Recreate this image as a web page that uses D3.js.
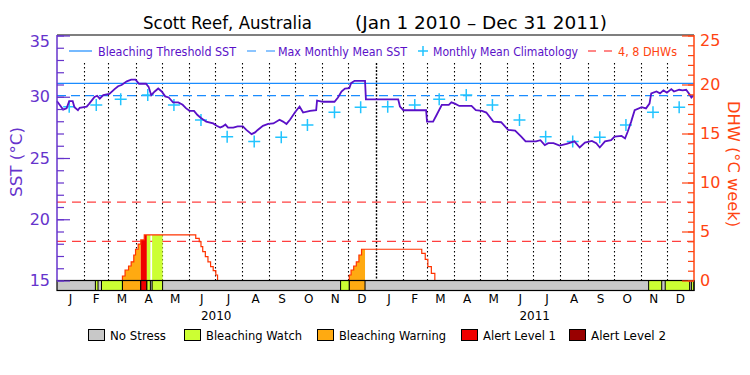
<!DOCTYPE html>
<html>
<head>
<meta charset="utf-8">
<script src="https://cdn.jsdelivr.net/npm/d3@7"></script>
<style>
  body { margin: 0; background: #fff; }
  svg { display: block; font-family: "DejaVu Sans", sans-serif; }
</style>
</head>
<body>
<svg id="chart" width="750" height="375"></svg>
<script>
// daily SST (deg C) at the line's corners
const sstData = [
  ["2010-01-01",29.64],["2010-01-04",29.34],["2010-01-08",28.95],["2010-01-12",29.05],["2010-01-15",29.64],
  ["2010-01-19",29.64],["2010-01-21",29.15],["2010-01-25",28.90],["2010-01-27",29.10],["2010-02-04",29.20],
  ["2010-02-07",29.44],["2010-02-13",29.98],["2010-02-16",30.08],["2010-02-19",29.84],["2010-02-23",30.13],
  ["2010-03-02",30.23],["2010-03-08",30.62],["2010-03-12",30.86],["2010-03-16",30.96],["2010-03-22",31.26],
  ["2010-03-27",31.40],["2010-04-01",31.40],["2010-04-05",31.06],["2010-04-13",31.06],["2010-04-16",30.81],
  ["2010-04-19",30.13],["2010-04-23",30.43],["2010-04-27",30.67],["2010-05-01",30.43],["2010-05-05",30.03],
  ["2010-05-09",29.94],["2010-05-14",29.54],["2010-05-20",29.54],["2010-05-25",29.34],["2010-05-29",29.05],
  ["2010-06-02",28.85],["2010-06-07",28.85],["2010-06-11",28.51],["2010-06-15",28.27],["2010-06-21",27.97],
  ["2010-06-29",27.82],["2010-07-03",27.63],["2010-07-07",27.48],["2010-07-10",27.58],["2010-07-13",27.73],
  ["2010-07-16",27.48],["2010-07-22",27.48],["2010-07-27",27.58],["2010-08-02",27.58],["2010-08-06",27.29],
  ["2010-08-12",26.95],["2010-08-16",27.09],["2010-08-19",27.29],["2010-08-25",27.63],["2010-08-31",27.78],
  ["2010-09-06",27.82],["2010-09-13",28.12],["2010-09-17",27.97],["2010-09-21",27.78],["2010-09-25",28.12],
  ["2010-10-01",28.76],["2010-10-06",29.20],["2010-10-10",28.71],["2010-10-18",28.85],["2010-10-25",28.90],
  ["2010-10-26",29.69],["2010-11-02",29.59],["2010-11-15",29.59],["2010-11-19",29.94],["2010-11-23",30.43],
  ["2010-11-27",30.67],["2010-12-02",30.71],["2010-12-04",31.11],["2010-12-08",31.30],["2010-12-20",31.30],
  ["2010-12-21",29.79],["2011-01-27",29.79],["2011-01-29",29.20],["2011-02-02",28.90],["2011-02-28",28.90],
  ["2011-03-01",27.97],["2011-03-08",27.97],["2011-03-12",28.51],["2011-03-18",29.34],["2011-03-26",29.34],
  ["2011-03-29",29.54],["2011-04-02",29.44],["2011-04-07",29.25],["2011-04-21",29.25],["2011-04-26",28.90],
  ["2011-05-03",28.85],["2011-05-08",28.71],["2011-05-16",27.97],["2011-05-25",27.92],["2011-06-02",27.29],
  ["2011-06-10",27.24],["2011-06-17",26.75],["2011-06-22",26.36],["2011-07-04",26.36],["2011-07-09",26.45],
  ["2011-07-14",26.06],["2011-07-18",26.21],["2011-07-24",26.21],["2011-07-31",26.01],["2011-08-08",26.16],
  ["2011-08-17",26.36],["2011-08-23",25.86],["2011-08-29",26.26],["2011-09-06",26.40],["2011-09-11",26.21],
  ["2011-09-15",25.86],["2011-09-21",26.36],["2011-09-28",26.45],["2011-10-02",26.75],["2011-10-10",26.80],
  ["2011-10-14",26.60],["2011-10-17",27.14],["2011-10-21",27.97],["2011-10-25",28.90],["2011-11-02",29.15],
  ["2011-11-07",29.05],["2011-11-11",29.44],["2011-11-13",30.28],["2011-11-19",30.43],["2011-11-23",30.28],
  ["2011-11-27",30.52],["2011-12-01",30.33],["2011-12-06",30.62],["2011-12-09",30.43],["2011-12-15",30.57],
  ["2011-12-19",30.52],["2011-12-23",30.57],["2011-12-27",30.18],["2011-12-29",29.94],["2011-12-31",30.08]
];

// monthly mean climatology, Jan..Dec
const climatology = [29.19, 29.32, 29.79, 30.15, 29.32, 28.10, 26.74, 26.34, 26.69, 27.70, 28.73, 29.14];

const maxMonthlyMean = 30.1;
const bleachThreshold = 31.1;
const dhwLevels = [4, 8];

// degree heating weeks, step values
const dhwData = [
  ["2010-01-01",0],["2010-03-17",0.46],["2010-03-20",1.07],["2010-03-24",1.48],["2010-03-27",1.91],
  ["2010-03-30",2.6],["2010-04-01",3.19],["2010-04-04",3.72],["2010-04-07",4.14],["2010-04-11",4.65],
  ["2010-06-09",4.3],["2010-06-13",3.97],["2010-06-15",3.45],["2010-06-17",2.94],["2010-06-20",2.43],
  ["2010-06-23",1.91],["2010-06-26",1.41],["2010-06-29",1.0],["2010-07-02",0.56],["2010-07-04",0],
  ["2010-12-02",0.56],["2010-12-04",1.07],["2010-12-07",1.48],["2010-12-10",1.91],["2010-12-13",2.6],
  ["2010-12-16",3.19],["2011-02-23",2.77],["2011-02-27",2.16],["2011-03-02",1.41],["2011-03-06",0.73],
  ["2011-03-10",0],["2012-01-01",0]
];

// stress level periods: [start, end, level]; anything not listed is No Stress
const statusPeriods = [
  ["2010-02-14","2010-02-17",1],["2010-02-21","2010-03-17",1],["2010-03-17","2010-04-07",2],
  ["2010-04-07","2010-04-14",3],["2010-04-14","2010-04-18",1],["2010-04-20","2010-05-02",1],
  ["2010-11-22","2010-12-02",1],["2010-12-02","2010-12-20",2],
  ["2011-11-10","2011-11-25",1],["2011-11-29","2011-12-27",1],["2011-12-29","2012-01-01",1]
];

const statusNames = ["No Stress", "Bleaching Watch", "Bleaching Warning", "Alert Level 1", "Alert Level 2"];
const statusColors = ["#c8c8c8", "#ccff33", "#ffaa11", "#f00000", "#990000"];

const monthLetters = ["J","F","M","A","M","J","J","A","S","O","N","D"];
const years = ["2010", "2011"];
const sstTicks = [15, 20, 25, 30, 35];
const dhwTicks = [0, 5, 10, 15, 20, 25];

const PURPLE = "#5a10c8";
const AXIS_PURPLE = "#6633cc";
const ORANGE = "#ff4411";
const BLUE = "#1a8cff";
const CYAN = "#22c4ff";

const parse = d3.utcParse("%Y-%m-%d");
const svg = d3.select("#chart");

const pL = 57, pR = 694, pT = 35, pB = 280.5, barH = 10;

const x = d3.scaleUtc().domain([parse("2010-01-01"), parse("2012-01-01")]).range([pL, pR]);
const ySst = d3.scaleLinear().domain([15, 35]).range([pB, pT + 0.5]);
const yDhw = d3.scaleLinear().domain([0, 25]).range([pB, pT + 0.5]);

// title
svg.append("text").attr("x", 143).attr("y", 29).attr("font-size", 17)
  .attr("textLength", 169).attr("lengthAdjust", "spacingAndGlyphs")
  .text("Scott Reef, Australia");
svg.append("text").attr("x", 355).attr("y", 29).attr("font-size", 17)
  .attr("textLength", 252).attr("lengthAdjust", "spacingAndGlyphs")
  .text("(Jan 1 2010 – Dec 31 2011)");

// month grid, dotted
const months = d3.utcMonth.range(parse("2010-01-01"), parse("2012-01-01"));
svg.append("g").selectAll("line").data(months.slice(1)).join("line")
  .attr("x1", d => Math.round(x(d)) + 0.5).attr("x2", d => Math.round(x(d)) + 0.5)
  .attr("y1", 63).attr("y2", pB)
  .attr("stroke", "#000")
  .attr("stroke-width", d => d.getUTCMonth() === 0 ? 1.4 : 1.1)
  .attr("stroke-dasharray", d => d.getUTCMonth() === 0 ? "2,1.5" : "1.5,2.5");

// DHW reference lines
svg.append("g").selectAll("line").data(dhwLevels).join("line")
  .attr("x1", pL).attr("x2", pR)
  .attr("y1", d => yDhw(d)).attr("y2", d => yDhw(d))
  .attr("stroke", "#ff1010").attr("stroke-dasharray", "9,6");

// DHW fill coloured by stress level
const dhwPts = dhwData.map(d => [parse(d[0]), d[1]]);
const dhwArea = d3.area().curve(d3.curveStepAfter)
  .x(d => x(d[0])).y0(pB).y1(d => yDhw(d[1]));
const defs = svg.append("defs");
statusPeriods.forEach((p, i) => {
  const x0 = x(parse(p[0])), x1 = x(parse(p[1]));
  defs.append("clipPath").attr("id", "clip" + i)
    .append("rect").attr("x", x0).attr("y", pT).attr("width", x1 - x0).attr("height", pB - pT);
  svg.append("path").datum(dhwPts)
    .attr("clip-path", `url(#clip${i})`)
    .attr("fill", statusColors[p[2]])
    .attr("d", dhwArea);
});

// DHW line
svg.append("path").datum(dhwPts)
  .attr("fill", "none").attr("stroke", "#ff3300").attr("stroke-width", 1.2)
  .attr("d", d3.line().curve(d3.curveStepAfter).x(d => x(d[0])).y(d => yDhw(d[1])));

// MMM and bleaching threshold
svg.append("line").attr("x1", pL).attr("x2", pR)
  .attr("y1", ySst(bleachThreshold)).attr("y2", ySst(bleachThreshold))
  .attr("stroke", BLUE).attr("stroke-width", 1.2);
svg.append("line").attr("x1", pL).attr("x2", pR)
  .attr("y1", ySst(maxMonthlyMean)).attr("y2", ySst(maxMonthlyMean))
  .attr("stroke", BLUE).attr("stroke-width", 1.2).attr("stroke-dasharray", "9,5");

// climatology crosses (mid-month, both years)
const climPts = months.map(m => [d3.utcDay.offset(m, 14), climatology[m.getUTCMonth()]]);
svg.append("g").selectAll("path").data(climPts).join("path")
  .attr("transform", d => `translate(${x(d[0])},${ySst(d[1])})`)
  .attr("d", "M-6,0H6M0,-6V6")
  .attr("stroke", CYAN).attr("stroke-width", 1.5).attr("fill", "none");

// SST line
svg.append("path").datum(sstData.map(d => [parse(d[0]), d[1]]))
  .attr("fill", "none").attr("stroke", PURPLE).attr("stroke-width", 1.8)
  .attr("stroke-linejoin", "miter")
  .attr("d", d3.line().x(d => x(d[0])).y(d => ySst(d[1])));

// status bar
const bar = svg.append("g");
bar.append("rect").attr("x", pL).attr("y", pB).attr("width", pR - pL).attr("height", barH)
  .attr("fill", statusColors[0]);
bar.selectAll("rect.seg").data(statusPeriods).join("rect").attr("class", "seg")
  .attr("x", d => x(parse(d[0]))).attr("y", pB)
  .attr("width", d => x(parse(d[1])) - x(parse(d[0]))).attr("height", barH)
  .attr("fill", d => statusColors[d[2]]).attr("stroke", "#000").attr("stroke-width", 1);
bar.append("rect").attr("x", pL).attr("y", pB).attr("width", pR - pL).attr("height", barH)
  .attr("fill", "none").attr("stroke", "#000").attr("stroke-width", 1.2);

// frame top
svg.append("line").attr("x1", pL).attr("x2", pR).attr("y1", pT).attr("y2", pT)
  .attr("stroke", "#000").attr("stroke-width", 1.2);

// left axis (SST)
const gL = svg.append("g").attr("transform", `translate(${pL},0)`);
gL.append("g").call(d3.axisLeft(ySst).tickValues(d3.range(15, 36)).tickSize(-7).tickSizeOuter(0).tickFormat(""))
  .call(g => g.select(".domain").remove());
gL.append("g").call(d3.axisLeft(ySst).tickValues(sstTicks).tickSize(-13).tickSizeOuter(0).tickPadding(7))
  .call(g => g.select(".domain").remove())
  .call(g => g.selectAll("text").attr("font-size", 16).attr("font-family", "DejaVu Sans").attr("fill", AXIS_PURPLE))
  .call(g => g.selectAll(".tick").filter(d => d === 35).select("text").attr("dy", "0.7em"));
gL.selectAll(".tick line").attr("stroke", AXIS_PURPLE).attr("stroke-width", 1.2);
gL.append("line").attr("y1", pT).attr("y2", pB).attr("stroke", AXIS_PURPLE).attr("stroke-width", 1.5);

// right axis (DHW)
const gR = svg.append("g").attr("transform", `translate(${pR},0)`);
gR.append("g").call(d3.axisRight(yDhw).tickValues(d3.range(0, 26)).tickSize(-6).tickSizeOuter(0).tickFormat(""))
  .call(g => g.select(".domain").remove());
gR.append("g").call(d3.axisRight(yDhw).tickValues(dhwTicks).tickSize(-12).tickSizeOuter(0).tickPadding(6))
  .call(g => g.select(".domain").remove())
  .call(g => g.selectAll("text").attr("font-size", 16).attr("font-family", "DejaVu Sans").attr("fill", ORANGE))
  .call(g => g.selectAll(".tick").filter(d => d === 25).select("text").attr("dy", "0.6em"));
gR.selectAll(".tick line").attr("stroke", ORANGE).attr("stroke-width", 1.2);
gR.append("line").attr("y1", pT).attr("y2", pB).attr("stroke", ORANGE).attr("stroke-width", 1.5);

// axis titles
svg.append("text").attr("transform", "translate(22,162) rotate(-90)")
  .attr("text-anchor", "middle").attr("font-size", 15).attr("fill", AXIS_PURPLE)
  .attr("textLength", 70).attr("lengthAdjust", "spacingAndGlyphs")
  .text("SST (°C)");
svg.append("text").attr("transform", "translate(728,164) rotate(90)")
  .attr("text-anchor", "middle").attr("font-size", 15).attr("fill", ORANGE)
  .attr("textLength", 126).attr("lengthAdjust", "spacingAndGlyphs")
  .text("DHW (°C week)");

// month letters and years
svg.append("g").selectAll("text").data(months).join("text")
  .attr("x", d => (x(d) + x(d3.utcMonth.offset(d, 1))) / 2).attr("y", 303)
  .attr("text-anchor", "middle").attr("font-size", 12)
  .text(d => monthLetters[d.getUTCMonth()]);
svg.append("g").selectAll("text").data(years).join("text")
  .attr("x", d => (x(parse(d + "-01-01")) + x(parse((+d + 1) + "-01-01"))) / 2).attr("y", 320)
  .attr("text-anchor", "middle").attr("font-size", 12)
  .text(d => d);

// top legend
const lg = svg.append("g").attr("font-size", 13);
lg.append("line").attr("x1", 69).attr("x2", 92).attr("y1", 51).attr("y2", 51).attr("stroke", BLUE).attr("stroke-width", 1.2);
lg.append("text").attr("x", 98).attr("y", 56).attr("fill", PURPLE)
  .attr("textLength", 138).attr("lengthAdjust", "spacingAndGlyphs").text("Bleaching Threshold SST");
lg.append("line").attr("x1", 247).attr("x2", 275).attr("y1", 51).attr("y2", 51).attr("stroke", BLUE)
  .attr("stroke-width", 1.2).attr("stroke-dasharray", "9,10");
lg.append("text").attr("x", 278).attr("y", 56).attr("fill", PURPLE)
  .attr("textLength", 129).attr("lengthAdjust", "spacingAndGlyphs").text("Max Monthly Mean SST");
lg.append("path").attr("transform", "translate(423,51)").attr("d", "M-5,0H5M0,-5V5")
  .attr("stroke", CYAN).attr("stroke-width", 1.5);
lg.append("text").attr("x", 433).attr("y", 56).attr("fill", PURPLE)
  .attr("textLength", 145).attr("lengthAdjust", "spacingAndGlyphs").text("Monthly Mean Climatology");
lg.append("line").attr("x1", 588).attr("x2", 612).attr("y1", 51).attr("y2", 51).attr("stroke", "#ff1010")
  .attr("stroke-width", 1.2).attr("stroke-dasharray", "8,8");
lg.append("text").attr("x", 618).attr("y", 56).attr("fill", ORANGE)
  .attr("textLength", 59).attr("lengthAdjust", "spacingAndGlyphs").text("4, 8 DHWs");

// bottom legend
const boxX = [88, 184, 317, 461, 569];
const textLen = [56, 96, 107, 73, 75];
const bl = svg.append("g").attr("font-size", 13);
statusNames.forEach((name, i) => {
  bl.append("rect").attr("x", boxX[i] + 0.5).attr("y", 329.5).attr("width", 16).attr("height", 11)
    .attr("fill", statusColors[i]).attr("stroke", "#000").attr("stroke-width", 1);
  bl.append("text").attr("x", boxX[i] + 22).attr("y", 340)
    .attr("textLength", textLen[i]).attr("lengthAdjust", "spacingAndGlyphs").text(name);
});
</script>
</body>
</html>
